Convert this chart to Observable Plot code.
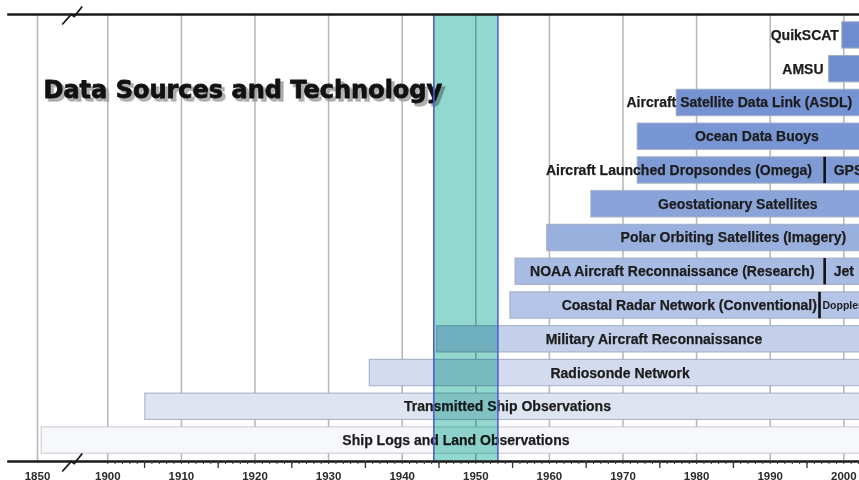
<!DOCTYPE html>
<html>
<head>
<meta charset="utf-8">
<script src="https://cdn.jsdelivr.net/npm/d3@7"></script>
<script src="https://cdn.jsdelivr.net/npm/@observablehq/plot@0.6"></script>
<style>
  html, body { margin: 0; padding: 0; background: #fff; }
  #chart svg { display: block; overflow: hidden; }
</style>
</head>
<body>
<div id="chart"></div>
<script>
// ---- data ----
const rows = [
  "QuikSCAT",
  "AMSU",
  "Aircraft Satellite Data Link (ASDL)",
  "Ocean Data Buoys",
  "Aircraft Launched Dropsondes (Omega)",
  "Geostationary Satellites",
  "Polar Orbiting Satellites (Imagery)",
  "NOAA Aircraft Reconnaissance (Research)",
  "Coastal Radar Network (Conventional)",
  "Military Aircraft Reconnaissance",
  "Radiosonde Network",
  "Transmitted Ship Observations",
  "Ship Logs and Land Observations"
];
const startYears = [1999.8, 1998, 1977.3, 1972, 1972, 1965.7, 1959.7, 1955.4, 1954.7, 1944.75, 1935.6, 1905.1, 1853];
const endYear = 2010; // bars run on past the right edge of the crop
const labelYears = [1994.7, 1994.45, 1985.8, 1988.2, 1977.6, 1985.6, 1985.0, 1976.7, 1979.0, 1974.2, 1969.6, 1954.3, 1947.3];

const switchRows = ["Aircraft Launched Dropsondes (Omega)", "NOAA Aircraft Reconnaissance (Research)", "Coastal Radar Network (Conventional)"];
const switchYears = [1997.4, 1997.4, 1996.7];
const switchLabels = ["GPS", "Jet", "Doppler"];

const highlightStart = 1944.3;
const highlightEnd = 1953;

const decadeTicks = [1850, 1900, 1910, 1920, 1930, 1940, 1950, 1960, 1970, 1980, 1990, 2000];
const fiveYearTicks = [1905, 1915, 1925, 1935, 1945, 1955, 1965, 1975, 1985, 1995];
const yearTicks = d3.range(1900, 2003);
const breakYear = 1874;
const title = "Data Sources and Technology";

// ---- broken time axis: years before 1900 are compressed ----
const breakAt = 1900;
const squeeze = 0.191;
const brk = y => y >= breakAt ? y : breakAt - (breakAt - y) * squeeze;
const unbrk = v => v >= breakAt ? v : breakAt - (breakAt - v) / squeeze;

// ---- tables built from arrays ----
const bars = rows.map((name, i) => ({name, start: startYears[i], end: endYear, labelAt: labelYears[i]}));
const switches = switchRows.map((name, i) => ({name, year: switchYears[i], label: switchLabels[i]}));

const barColors = ["#6d8ccf", "#6f8ed0", "#7592d2", "#7896d3", "#7f9bd6", "#8aa4d9", "#99b0de", "#a8bbe3", "#b5c5e7", "#c4cfea", "#d4dbee", "#dfe4f1", "#f7f8fb"];

const breakSymbol = {
  draw(ctx, size) {
    const k = Math.sqrt(size / Math.PI) / 10;
    ctx.moveTo(-9 * k, 10 * k);
    ctx.lineTo(0, 0);
    ctx.lineTo(3 * k, 2 * k);
    ctx.lineTo(11 * k, -8 * k);
  }
};

const labelFont = "'Liberation Sans', Arial, sans-serif";

const chart = Plot.plot({
  width: 859,
  height: 480,
  marginLeft: 8,
  marginRight: 0,
  marginTop: 14,
  marginBottom: 19,
  style: {background: "#fff"},
  x: {type: "linear", domain: [brk(1850), 2000], range: [37, 843.3]},
  y: {type: "band", domain: rows, paddingInner: 0.22, paddingOuter: 0.23, round: false, axis: null},
  color: {domain: rows, range: barColors},
  marks: [
    // vertical grid lines
    Plot.ruleX(decadeTicks, {x: d => brk(d), stroke: "#b6babf", strokeWidth: 1.6}),
    // bars
    Plot.barX(bars, {
      x1: d => brk(d.start), x2: d => brk(d.end), y: "name", fill: "name",
      stroke: d => d.name === "Ship Logs and Land Observations" ? "#c6c6c6" : "#9ea9c2",
      strokeWidth: 1.2, strokeOpacity: 0.8
    }),
    // technology switch separators
    Plot.tickX(switches, {x: d => brk(d.year), y: "name", stroke: "#111", strokeWidth: 2.6}),
    // labels
    Plot.text(bars, {
      x: d => brk(d.labelAt), y: "name", text: "name",
      fontFamily: labelFont, fontWeight: "bold", fontSize: 14, fill: "#1c1c1c",
      stroke: "#1c1c1c", strokeWidth: 0.25
    }),
    Plot.text(switches.filter(d => d.label !== "Doppler"), {
      x: d => brk(d.year), y: "name", text: "label", textAnchor: "start", dx: 9,
      fontFamily: labelFont, fontWeight: "bold", fontSize: 14, fill: "#1c1c1c",
      stroke: "#1c1c1c", strokeWidth: 0.25
    }),
    Plot.text(switches.filter(d => d.label === "Doppler"), {
      x: d => brk(d.year), y: "name", text: "label", textAnchor: "start", dx: 3,
      fontFamily: labelFont, fontWeight: "bold", fontSize: 10.5, fill: "#1c1c1c"
    }),
    // title with drop shadow
    Plot.text([title], {
      frameAnchor: "top-left", dx: 38, dy: 86, textAnchor: "start", lineAnchor: "bottom",
      fontFamily: "'DejaVu Sans', sans-serif", fontWeight: "bold", fontSize: 24,
      fill: "#9a9a9a", fillOpacity: 0.75, stroke: "#9a9a9a", strokeOpacity: 0.5, strokeWidth: 2
    }),
    Plot.text([title], {
      frameAnchor: "top-left", dx: 35, dy: 83, textAnchor: "start", lineAnchor: "bottom",
      fontFamily: "'DejaVu Sans', sans-serif", fontWeight: "bold", fontSize: 24,
      fill: "#111", stroke: "#111", strokeWidth: 0.8
    }),
    // highlighted period
    Plot.rect([{a: highlightStart, b: highlightEnd}], {
      x1: d => brk(d.a), x2: d => brk(d.b), fill: "#92d8ce", mixBlendMode: "multiply"
    }),
    Plot.ruleX([highlightStart, highlightEnd], {x: d => brk(d), stroke: "#4f5fd2", strokeWidth: 1.6}),
    // top and bottom border lines
    Plot.frame({anchor: "top", stroke: "#1a1a1a", strokeWidth: 2.6}),
    Plot.frame({anchor: "bottom", stroke: "#1a1a1a", strokeWidth: 2.6}),
    // axis ticks and labels
    Plot.axisX({ticks: yearTicks.map(brk), tickSize: 3, tickFormat: () => "", stroke: "#333", strokeWidth: 1, label: null}),
    Plot.axisX({ticks: fiveYearTicks.map(brk), tickSize: 7, tickFormat: () => "", stroke: "#333", strokeWidth: 1.3, label: null}),
    Plot.axisX({
      ticks: decadeTicks.map(brk), tickSize: 0, tickPadding: 10, tickFormat: v => String(Math.round(unbrk(v))), label: null,
      fontFamily: labelFont, fontWeight: "bold", fontSize: 11.5, fill: "#2a2a2a"
    }),
    // axis break marks
    Plot.dot([breakYear], {x: d => brk(d), frameAnchor: "top", symbol: breakSymbol, r: 10, fill: "none", stroke: "#1a1a1a", strokeWidth: 1.8}),
    Plot.dot([breakYear], {x: d => brk(d), frameAnchor: "bottom", symbol: breakSymbol, r: 10, fill: "none", stroke: "#1a1a1a", strokeWidth: 1.8})
  ]
});

document.getElementById("chart").appendChild(chart);
</script>
</body>
</html>
